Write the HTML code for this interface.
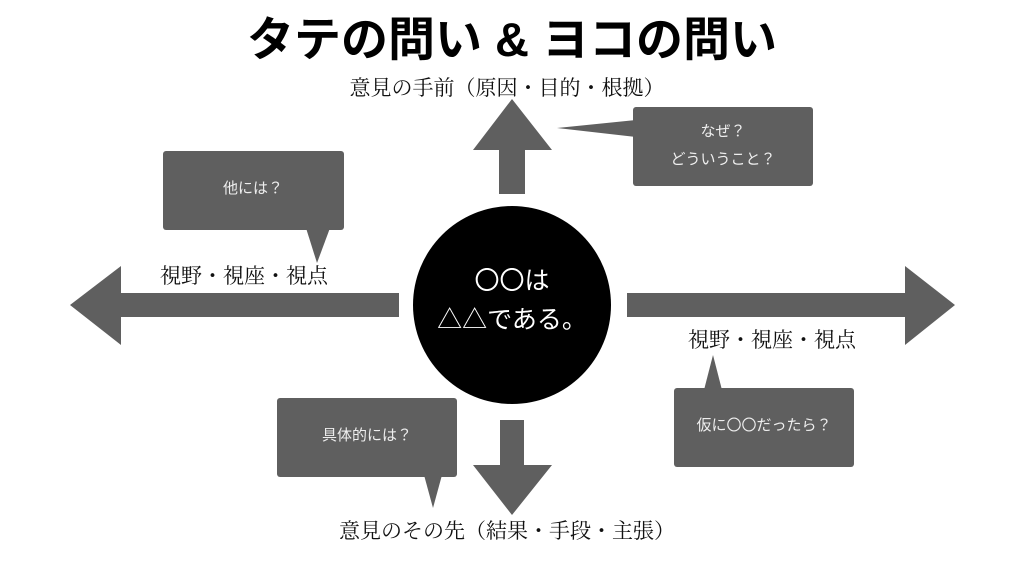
<!DOCTYPE html>
<html><head><meta charset="utf-8"><style>
html,body{margin:0;padding:0;background:#fff;width:1024px;height:576px;overflow:hidden}
svg{display:block}
.s{font-family:"Liberation Serif","Noto Serif CJK JP","Noto Serif CJK SC",serif;font-size:21px;fill:#111}
.w{font-family:"Liberation Sans","Noto Sans CJK JP",sans-serif;font-size:15px;fill:#eee}
</style></head><body>
<svg width="1024" height="576" viewBox="0 0 1024 576">
<text x="512" y="56" text-anchor="middle" font-family="Liberation Sans,Noto Sans CJK JP,sans-serif" font-weight="bold" font-size="47" fill="#000">タテの問い &amp; ヨコの問い</text>
<text class="s" x="507" y="95" text-anchor="middle">意見の手前（原因・目的・根拠）</text>
<g fill="#5f5f5f">
<polygon points="512,99 552,150 525,150 525,194 499,194 499,150 473,150"/>
<polygon points="512,515 552,465 524,465 524,420 500,420 500,465 473,465"/>
<polygon points="70,305 121,266 121,293 399,293 399,317 121,317 121,345"/>
<polygon points="955,305 905,266 905,293 627,293 627,317 905,317 905,345"/>
<rect x="633" y="107" width="180" height="79" rx="3"/>
<polygon points="557,128 636,120 636,137"/>
<rect x="163" y="151" width="181" height="79" rx="3"/>
<polygon points="306,228 330,228 317,263"/>
<rect x="674" y="388" width="180" height="79" rx="3"/>
<polygon points="704,390 722,390 713,355"/>
<rect x="277" y="398" width="180" height="79" rx="3"/>
<polygon points="424,475 442,475 433,508"/>
</g>
<circle cx="512" cy="305" r="99" fill="#000"/>
<text x="512" y="289" text-anchor="middle" font-family="Liberation Sans,Noto Sans CJK JP,sans-serif" font-size="25" fill="#fff">〇〇は</text>
<text x="512" y="328" text-anchor="middle" font-family="Liberation Sans,Noto Sans CJK JP,sans-serif" font-size="25" fill="#fff">△△である。</text>
<text class="w" x="723" y="136" text-anchor="middle">なぜ？</text>
<text class="w" x="723" y="164" text-anchor="middle">どういうこと？</text>
<text class="w" x="253" y="193" text-anchor="middle">他には？</text>
<text class="w" x="764" y="430" text-anchor="middle">仮に〇〇だったら？</text>
<text class="w" x="367" y="440" text-anchor="middle">具体的には？</text>
<text class="s" x="160" y="283">視野・視座・視点</text>
<text class="s" x="688" y="347">視野・視座・視点</text>
<text class="s" x="507" y="538" text-anchor="middle">意見のその先（結果・手段・主張）</text>
</svg>
</body></html>
